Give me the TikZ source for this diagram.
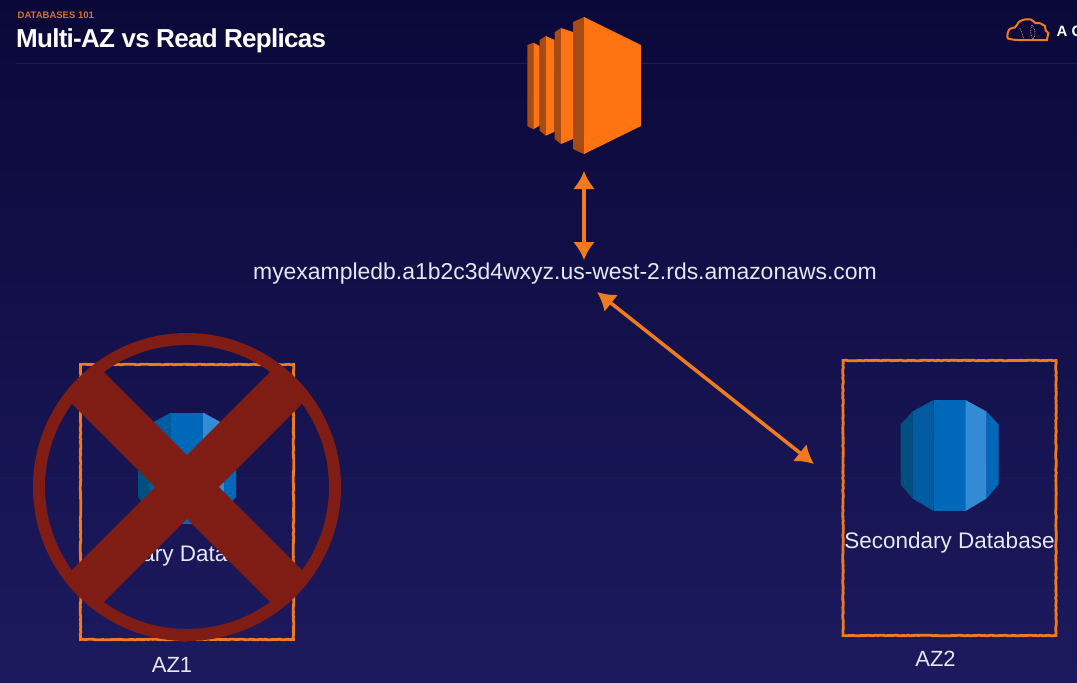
\documentclass[tikz,border=0pt]{standalone}
\usepackage{fontspec}
\setmainfont{Liberation Sans}
\newfontfamily\headfont[LetterSpace=-2.8]{Liberation Sans}
\usepackage{xcolor}
\usetikzlibrary{positioning,arrows.meta,decorations.pathmorphing}
\definecolor{bgtop}{HTML}{0B0839}
\definecolor{bgbottom}{HTML}{1C1A5E}
\definecolor{rule}{HTML}{201C58}
\definecolor{sketch}{HTML}{F07A1E}
\definecolor{kickertext}{HTML}{D9702B}
\definecolor{awsorange}{HTML}{FF7412}
\definecolor{awsdark}{HTML}{A84A14}
\definecolor{dbdarkest}{HTML}{00507F}
\definecolor{dbdark}{HTML}{005B9F}
\definecolor{dbmid}{HTML}{0068B8}
\definecolor{dblight}{HTML}{338BD6}
\definecolor{crossred}{HTML}{7F1D14}
\definecolor{lighttext}{HTML}{E6E6F5}
\tikzset{
    label text/.style={font=\fontsize{22.5}{26}\selectfont, text=lighttext, inner sep=0pt},
    az box/.style={draw=sketch, line width=2.8pt, minimum width=213pt, minimum height=275pt, inner sep=0pt,
        decorate, decoration={random steps, segment length=2.5pt, amplitude=0.35pt}},
    sketch arrow/.style={draw=sketch, line width=3.5pt, {Latex[length=18pt,width=22pt]}-{Latex[length=18pt,width=22pt]}},
    cross ring/.style={circle, draw=crossred, line width=12pt, minimum size=296pt, inner sep=0pt, outer sep=0pt},
    cross bar/.style={draw=crossred, line width=45pt}
}
% one database cylinder, around a centre
\newcommand{\dbicon}[1]{
    \begin{scope}[shift={#1}]
        \fill[dbdarkest] (-49,-31) -- (-37,-44) -- (-37,43) -- (-49,29) -- cycle;
        \fill[dbdark] (-37,-44) -- (-16,-55.5) -- (-16,55.5) -- (-37,43) -- cycle;
        \fill[dbmid] (-16,-55.5) -- (16,-55.5) -- (16,55.5) -- (-16,55.5) -- cycle;
        \fill[dblight] (16,-55.5) -- (37,-44) -- (37,43) -- (16,55.5) -- cycle;
        \fill[dbmid] (37,-44) -- (49,-31) -- (49,29) -- (37,43) -- cycle;
    \end{scope}
}
\begin{document}
\begin{tikzpicture}[x=1pt, y=-1pt]
    \useasboundingbox (0,0) rectangle (1077,683);
    \shade[top color=bgtop, bottom color=bgbottom] (0,0) rectangle (1077,683);

    % header
    \coordinate (ruleleft) at (16,63);
    \coordinate (ruleright) at (1077,63);
    \draw[rule, line width=1pt] (ruleleft) -- (ruleright);
    \node[anchor=base west, inner sep=0pt, text=kickertext, font=\fontsize{9.5}{11}\selectfont\bfseries] (kicker) at (17.5,18.5) {DATABASES 101};
    \node[anchor=base west, inner sep=0pt, text=white, font=\fontsize{26}{30}\headfont\bfseries] (title) at (16,47) {Multi-AZ vs Read Replicas};

    % logo
    \draw[sketch, line width=2pt, rounded corners=5pt] (1013,40) .. controls (1006,38) and (1008,28) .. (1016,29)
        .. controls (1019,19) and (1031,18) .. (1035,25) .. controls (1040,23) and (1045,26) .. (1044,31)
        .. controls (1048,33) and (1047,40) .. (1042,40) -- cycle;
    \draw[sketch!60!white, line width=0.7pt, densely dotted] (1020,28) -- (1024,39) (1032,25) .. controls (1036,30) and (1036,35) .. (1033,39)
        .. controls (1030,35) and (1030,30) .. (1032,25);
    \node[anchor=base west, inner sep=0pt, text=white, font=\fontsize{15}{18}\selectfont\bfseries] (logotext) at (1056.5,36.5) {A C};

    % compute icon
    \fill[awsdark] (527.3,45) -- (533.3,42.7) -- (533.3,129.3) -- (527.3,126) -- cycle;
    \fill[awsorange] (533.3,42.7) -- (539.7,46) -- (539.7,125.5) -- (533.3,129.3) -- cycle;
    \fill[awsdark] (539.7,40) -- (545.7,36) -- (545.7,135.7) -- (539.7,130.7) -- cycle;
    \fill[awsorange] (545.7,36) -- (554.7,40) -- (554.7,131.7) -- (545.7,135.7) -- cycle;
    \fill[awsdark] (554.7,32.3) -- (561,28) -- (561,144) -- (554.7,139) -- cycle;
    \fill[awsorange] (561,28) -- (573,32) -- (573,139) -- (561,144) -- cycle;
    \fill[awsdark] (573,22) -- (584,17) -- (584,154) -- (573,149) -- cycle;
    \fill[awsorange] (584,17) -- (641,45) -- (641,126) -- (584,154) -- cycle;

    % endpoint text and anchors of the arrows
    \node[label text, font=\fontsize{22.95}{26}\selectfont] (endpoint) at (565,274) {myexampledb.a1b2c3d4wxyz.us-west-2.rds.amazonaws.com};
    \coordinate (computeend) at (584,171);
    \coordinate (endpointtop) at (584,260);
    \coordinate (endpointside) at (597,292);
    \coordinate (azend) at (814,464);
    \draw[sketch arrow] (computeend) -- (endpointtop);
    \draw[sketch arrow] (endpointside) -- (azend);

    % AZ2
    \node[az box] (az2) at (949.5,498) {};
    \dbicon{(949.5,455.5)}
    \node[label text] (secondary) at (949.5,543) {Secondary Database};
    \node[label text, font=\fontsize{22}{26}\selectfont] (az2label) at (935.5,659) {AZ2};

    % AZ1
    \node[az box] (az1) at (187,502) {};
    \dbicon{(187,468)}
    \node[label text] (primary) at (185,556) {ary Data};
    \node[label text, font=\fontsize{22}{26}\selectfont] (az1label) at (172,665) {AZ1};

    % failed zone
    \node[cross ring] (cross) at (187,487) {};
    \draw[cross bar] (cross.north west) -- (cross.south east);
    \draw[cross bar] (cross.north east) -- (cross.south west);
\end{tikzpicture}
\end{document}
